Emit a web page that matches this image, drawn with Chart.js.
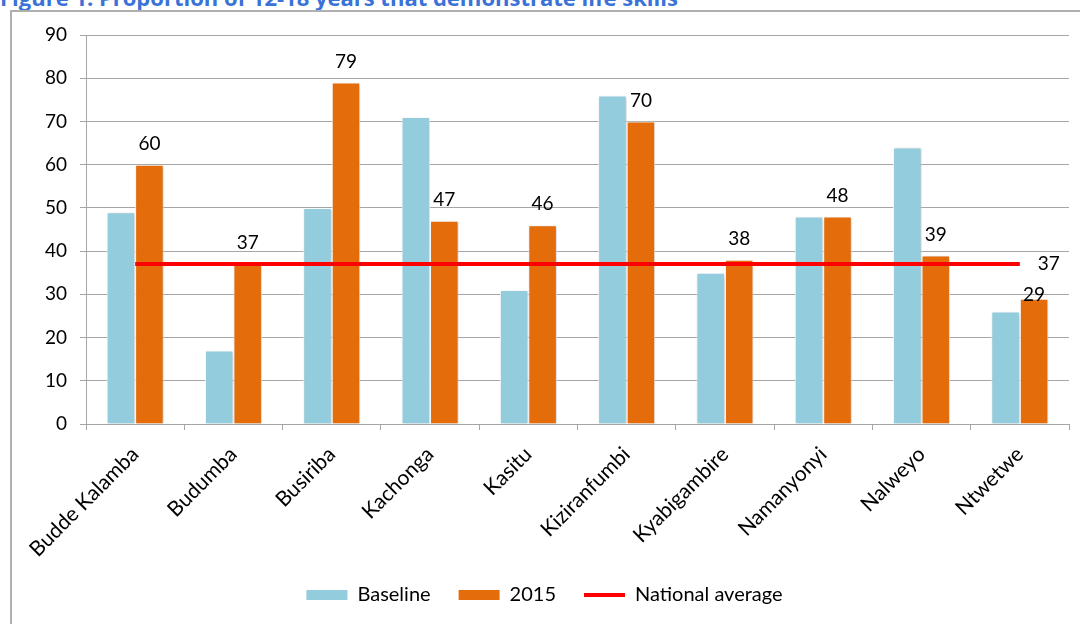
<!DOCTYPE html>
<html>
<head>
<meta charset="utf-8">
<script src="https://cdn.jsdelivr.net/npm/chart.js@4"></script>
<style>
  html, body { margin: 0; padding: 0; width: 1080px; height: 624px; overflow: hidden; background: #fff; }
  .title { position: absolute; left: 0; top: -18px; font: bold 22px 'Open Sans', sans-serif; color: #3b72d8; white-space: nowrap; }
  .frame { position: absolute; left: 10px; top: 10px; width: 1100px; height: 700px; border-left: 2px solid #b0b0b0; border-top: 2px solid #b0b0b0; }
  .wrap { position: absolute; left: 0; top: 0; width: 1080px; height: 615px; }
</style>
</head>
<body>
<div class="title">Figure 1: Proportion of 12-18 years that demonstrate life skills</div>
<div class="frame"></div>
<div class="wrap"><canvas id="skills-chart" width="1080" height="615"></canvas></div>
<script>
// Sub-counties on the horizontal axis
const subCounties = ['Budde Kalamba', 'Budumba', 'Busiriba', 'Kachonga', 'Kasitu',
  'Kiziranfumbi', 'Kyabigambire', 'Namanyonyi', 'Nalweyo', 'Ntwetwe']
// Percent of 12-18 year olds showing life skills
const baseline = [49, 17, 50, 71, 31, 76, 35, 48, 64, 26]
const year2015 = [60, 37, 79, 47, 46, 70, 38, 48, 39, 29]
const nationalAverage = [37, 37, 37, 37, 37, 37, 37, 37, 37, 37]
const yTicks = [0, 10, 20, 30, 40, 50, 60, 70, 80, 90]

const gridGrey = '#a6a6a6'
const tickFont = { family: 'Lato', size: 19 }

// soft drop shadow behind the bars
const barShadow = {
  id: 'barShadow',
  beforeDatasetDraw(chart, args) {
    if (args.meta.type !== 'bar') return
    const ctx = chart.ctx
    ctx.save()
    ctx.shadowColor = 'rgba(0,0,0,0.22)'
    ctx.shadowBlur = 3
    ctx.shadowOffsetX = 1
    ctx.shadowOffsetY = 1
  },
  afterDatasetDraw(chart, args) {
    if (args.meta.type !== 'bar') return
    chart.ctx.restore()
  }
}

// value labels over the 2015 bars, and one at the end of the average line;
// a bar label that would run into the average label drops down onto its bar
const valueLabels = {
  id: 'valueLabels',
  afterDatasetsDraw(chart) {
    const ctx = chart.ctx
    ctx.save()
    ctx.font = '19px Lato'
    ctx.fillStyle = '#000'
    ctx.textAlign = 'center'
    ctx.textBaseline = 'middle'

    const pts = chart.getDatasetMeta(2).data
    const last = pts[pts.length - 1]
    const avgX = last.x + 29, avgY = last.y
    ctx.fillText(nationalAverage[nationalAverage.length - 1], avgX, avgY)

    chart.getDatasetMeta(1).data.forEach((bar, i) => {
      let y = bar.y - 21
      const w = ctx.measureText(year2015[i]).width
      const hitsAvg = Math.abs(bar.x - avgX) < w && Math.abs(y - avgY) < 22
      if (hitsAvg) y = bar.y - 4
      ctx.fillText(year2015[i], bar.x, y)
    })
    ctx.restore()
  }
}

const skillsChart = new Chart(document.querySelector('#skills-chart'), {
  type: 'bar',
  data: {
    labels: subCounties,
    datasets: [
      {
        label: 'Baseline',
        data: baseline,
        backgroundColor: '#93cddd',
        borderColor: '#ffffff',
        borderWidth: 1,
        categoryPercentage: 0.58,
        barPercentage: 1,
        order: 2
      },
      {
        label: '2015',
        data: year2015,
        backgroundColor: '#e46c0a',
        borderColor: '#ffffff',
        borderWidth: 1,
        categoryPercentage: 0.58,
        barPercentage: 1,
        order: 2
      },
      {
        type: 'line',
        label: 'National average',
        data: nationalAverage,
        borderColor: '#ff0000',
        borderWidth: 4,
        pointRadius: 0,
        fill: false,
        order: 1
      }
    ]
  },
  options: {
    responsive: false,
    animation: false,
    layout: { padding: { left: 20, right: 11, top: 35, bottom: 0 } },
    plugins: {
      tooltip: { enabled: false },
      legend: {
        position: 'bottom',
        labels: {
          color: '#000',
          font: { family: 'Lato', size: 20 },
          padding: 28,
          usePointStyle: true,
          pointStyleWidth: 41,
          boxHeight: 10,
          sort: (a, b) => a.datasetIndex - b.datasetIndex,
          generateLabels(chart) {
            const items = Chart.defaults.plugins.legend.labels.generateLabels(chart)
            items.forEach(item => {
              const ds = chart.data.datasets[item.datasetIndex]
              if (ds.type === 'line') {
                item.pointStyle = 'line'
                item.strokeStyle = ds.borderColor
                item.lineWidth = 4
              } else {
                item.pointStyle = 'rect'
                item.fillStyle = ds.backgroundColor
                item.strokeStyle = ds.backgroundColor
                item.lineWidth = 0
              }
            })
            return items
          }
        }
      }
    },
    scales: {
      x: {
        offset: true,
        grid: { offset: true, drawOnChartArea: false, drawTicks: true, tickLength: 6, color: gridGrey },
        border: { color: gridGrey },
        ticks: {
          color: '#000',
          font: { family: 'Lato', size: 21 },
          autoSkip: false,
          minRotation: 45,
          maxRotation: 45,
          padding: 12
        },
        afterFit(scale) { scale.height = 133 }
      },
      y: {
        min: 0,
        max: 90,
        grid: { color: gridGrey, tickLength: 6 },
        border: { color: gridGrey },
        afterBuildTicks(scale) { scale.ticks = yTicks.map(v => ({ value: v })) },
        ticks: { color: '#000', font: tickFont, padding: 13 },
        afterFit(scale) { scale.width = 66 }
      }
    }
  },
  plugins: [barShadow, valueLabels]
})
</script>
</body>
</html>
